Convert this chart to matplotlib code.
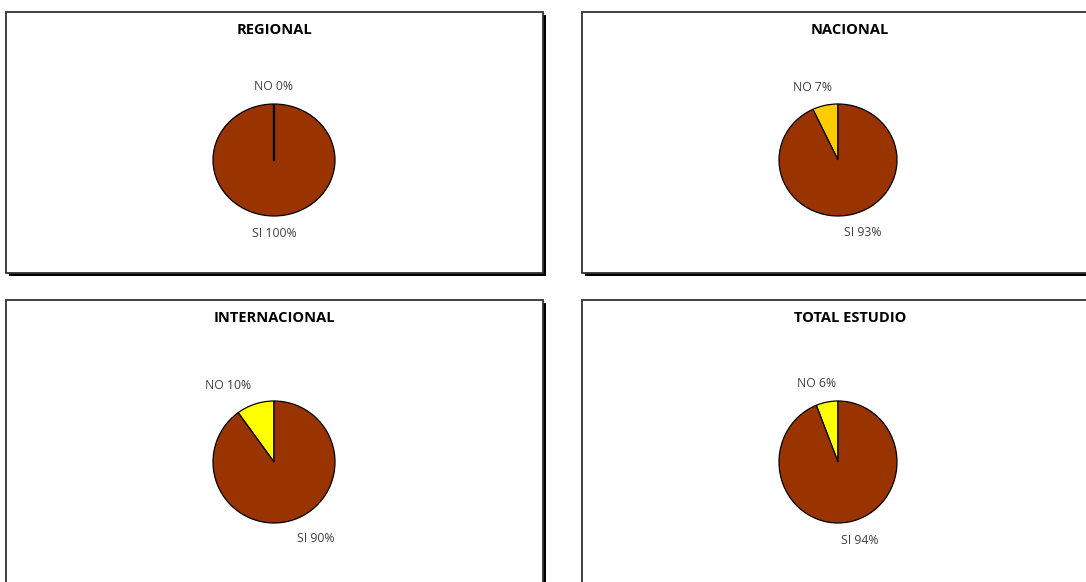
import numpy as np
import matplotlib.pyplot as plt
from matplotlib.patches import Rectangle

# Datos
titles = ['REGIONAL', 'NACIONAL', 'INTERNACIONAL', 'TOTAL ESTUDIO']
categories = ['NO', 'SI']
no_values = [0, 7, 10, 6]
si_values = [100, 93, 90, 94]
no_colors = ['#FFCC00', '#FFCC00', '#FFFF00', '#FFFF00']
si_color = '#993300'

W, H = 1086, 582
plt.rcParams['font.family'] = ['Open Sans', 'DejaVu Sans']

fig = plt.figure(figsize=(W / 100, H / 100), dpi=100)
bg = fig.add_axes([0, 0, 1, 1])
bg.set_xlim(0, W)
bg.set_ylim(H, 0)
bg.axis('off')

# cajas: (izq, arriba, ancho, alto) en pixeles, y pie (cx, cy, rx, ry)
boxes = [(6, 12, 537, 261), (582, 12, 537, 261), (6, 300, 537, 300), (582, 300, 537, 300)]
pies = [(274, 160, 61, 56), (838, 160, 59, 56), (274, 462, 61, 61), (838, 462, 59, 61)]

for i, (x0, y0, bw, bh) in enumerate(boxes):
    # sombra
    bg.add_patch(Rectangle((x0 + 3, y0 + 3), bw, bh, facecolor='black', edgecolor='none', zorder=1))
    bg.add_patch(Rectangle((x0, y0), bw, bh, facecolor='white', edgecolor='#333333', lw=1.3, zorder=2))
    bg.text(x0 + 268, y0 + 18, titles[i], ha='center', va='center', fontsize=10.5,
            fontweight='bold', color='black', zorder=3)

    cx, cy, rx, ry = pies[i]
    ax = fig.add_axes([(cx - rx) / W, 1 - (cy + ry) / H, 2 * rx / W, 2 * ry / H])
    vals = [no_values[i], si_values[i]]
    wedges, _ = ax.pie(vals, colors=[no_colors[i], si_color], startangle=90, counterclock=True,
                       wedgeprops=dict(edgecolor='black', linewidth=0.9))
    if no_values[i] == 0:
        ax.plot([0, 0], [0, 1], color='black', lw=1.6)
    ax.set_aspect('auto')
    ax.set_xlim(-1, 1)
    ax.set_ylim(-1, 1)
    ax.axis('off')

    # etiquetas
    total = sum(vals)
    start = 90.0
    for name, v in zip(categories, vals):
        mid = np.deg2rad(start + 360.0 * v / total / 2)
        start += 360.0 * v / total
        c, s = np.cos(mid), np.sin(mid)
        if abs(c) < 0.25:
            ha, dx = 'center', c * 32
        else:
            ha, dx = ('right' if c < 0 else 'left'), 0
        va = 'bottom' if s > 0 else 'top'
        ax.annotate(f'{name} {v}%', xy=(1.2 * c, 1.2 * s), xytext=(dx, 0),
                    textcoords='offset points', ha=ha, va=va, fontsize=8.8,
                    color='#404040', annotation_clip=False)

fig.savefig('out.png', dpi=100)
